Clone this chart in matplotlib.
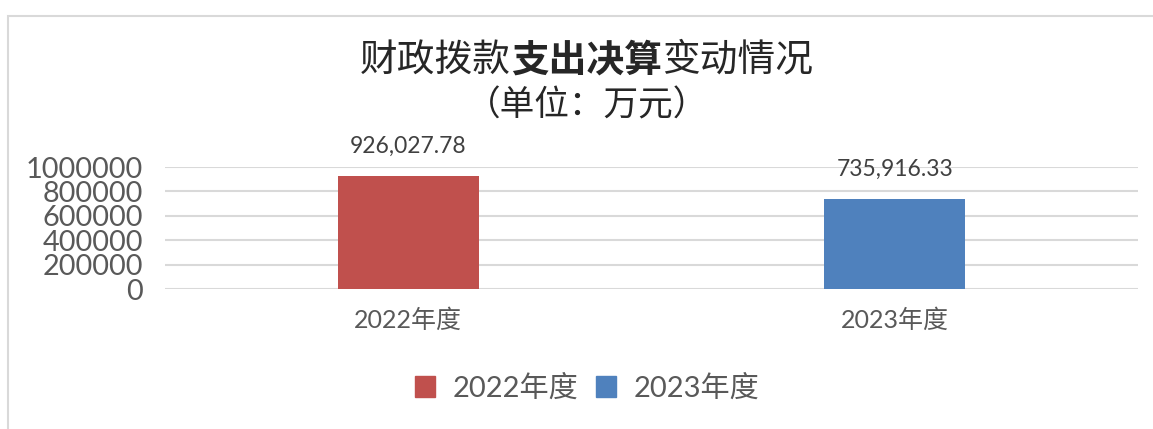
import matplotlib
matplotlib.use("Agg")
import matplotlib.pyplot as plt
from matplotlib.patches import Rectangle, Patch

plt.rcParams['font.family'] = ['Lato', 'Noto Sans CJK SC', 'DejaVu Sans']

# data
categories = ['2022年度', '2023年度']
values = [926027.78, 735916.33]
value_labels = ['926,027.78', '735,916.33']
colors = ['#C0504D', '#4F81BD']
yticks = [0, 200000, 400000, 600000, 800000, 1000000]

W, H = 1153, 429
fig = plt.figure(figsize=(W / 100, H / 100), dpi=100)

# chart frame (top and left edges visible)
fig.patches.append(Rectangle((8 / W, -0.1), 1.2, 1.1 - 16 / H, transform=fig.transFigure,
                             fill=False, edgecolor='#d9d9d9', linewidth=1.5))

ax = fig.add_axes([165 / W, (H - 289) / H, (1138 - 165) / W, 122 / H])
x = range(len(categories))
ax.bar(x, values, width=0.29, color=colors, zorder=2)

for xi, v, lab in zip(x, values, value_labels):
    ax.annotate(lab, (xi, v), xytext=(0, 14), textcoords='offset points',
                ha='center', va='bottom', fontsize=16.5, color='#404040')

ax.set_xlim(-0.5, 1.5)
ax.set_ylim(0, 1000000)
ax.set_yticks(yticks)
ax.set_yticklabels([str(t) for t in yticks], fontsize=20.8, color='#595959')
ax.set_xticks(list(x))
ax.set_xticklabels(categories, fontsize=18, color='#595959')
ax.tick_params(axis='x', length=0, pad=14)
ax.tick_params(axis='y', length=0, pad=16)
ax.grid(axis='y', color='#d9d9d9', linewidth=1.5, zorder=0)
for s in ax.spines.values():
    s.set_visible(False)

# title, "支出决算" in bold
F = 37.7  # px per CJK character
tsize = F * 72 / 100
x0 = 360
parts = [('财政拨款', 'normal'), ('支出决算', 'bold'), ('变动情况', 'normal')]
for i, (txt, wt) in enumerate(parts):
    fig.text((x0 + i * 4 * F) / W, 1 - 60 / H, txt, fontsize=tsize, fontweight=wt,
             color='#262626', ha='left', va='center', family=['Noto Sans CJK SC'])
fig.text(587 / W, 1 - 106 / H, '（单位：万元）', fontsize=tsize * 0.92, color='#262626',
         ha='center', va='center', family=['Noto Sans CJK SC'])

handles = [Patch(color=c, label=l) for c, l in zip(colors, categories)]
fig.legend(handles=handles, loc='center', bbox_to_anchor=(587 / W, 1 - 388 / H), ncol=2,
           frameon=False, fontsize=21, handlelength=0.7, handleheight=0.7,
           handletextpad=0.6, columnspacing=0.6, labelcolor='#595959')

fig.savefig('out.png', dpi=100)
